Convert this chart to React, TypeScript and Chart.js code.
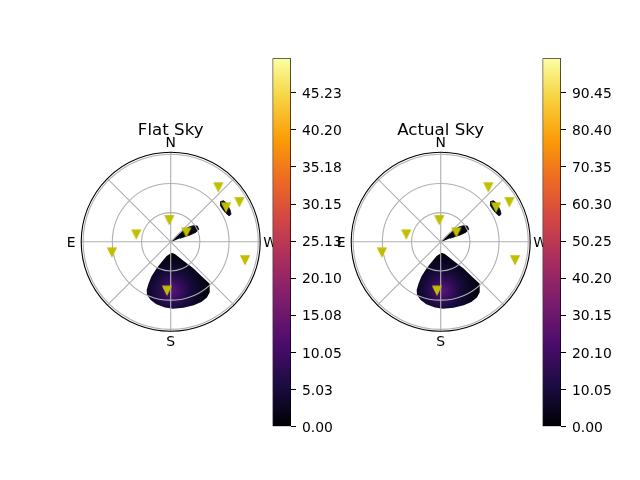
import React, { useEffect, useRef } from 'react';
import { Chart, registerables } from 'chart.js';

Chart.register(...registerables);

const FONT = "'DejaVu Sans', 'Liberation Sans', sans-serif";

// ---------------- data ----------------
const panelTitles = ['Flat Sky', 'Actual Sky'];

// yellow "v" markers: azimuth (deg, N=0, E=90) and zenith angle (deg)
const markerAzimuth = [318.9, 300.1, 302.0, 3.7, 301.3, 77.7, 100.1, 256.2, 175.6];
const markerZenith = [74.5, 81.6, 67.1, 22.5, 18.8, 36.2, 61.4, 78.7, 50.1];

// main (southern) intensity region outline
const mainBlobAzimuth = [185, 164, 156, 152, 151, 152, 153.5, 156, 161, 167, 175, 182, 191, 200, 207, 213, 218, 223, 222, 220.5, 214, 199];
const mainBlobZenith = [11.3, 15.2, 22.5, 30.8, 40.9, 48.5, 55.4, 59.8, 63.3, 65.9, 67.7, 68.9, 69.0, 69.4, 69.4, 68.4, 65.4, 58.8, 47.5, 35.8, 23.4, 13.3];
const mainPeakAzimuth = 182;
const mainPeakZenith = 50;

// small region near the zenith (towards NW)
const innerBlobAzimuth = [276, 314, 311.5, 309.5, 305.5, 300.7, 294, 290.6, 289.4, 290.6];
const innerBlobZenith = [1.0, 8.6, 17.3, 23.5, 28.6, 31.8, 31.6, 27.8, 21.1, 10.2];

// small region near the horizon (NW)
const outerBlobAzimuth = [309, 308, 304.5, 298, 294.5, 294, 297.3, 302, 306.7];
const outerBlobZenith = [65.4, 68.7, 69.9, 69.2, 68.2, 65.6, 64.0, 63.1, 63.3];

// polar axes
const radialGridValues = [30, 60, 90];
const radialMax = 92;
const angularGridValues = [0, 45, 90, 135, 180, 225, 270, 315];
const compassLabels = ['N', 'E', 'S', 'W'];
const compassAzimuths = [0, 90, 180, 270];

// colorbars
const flatTicks = [0, 5.025, 10.05, 15.075, 20.1, 25.125, 30.15, 35.175, 40.2, 45.225];
const flatTickLabels = ['0.00', '5.03', '10.05', '15.08', '20.10', '25.13', '30.15', '35.18', '40.20', '45.23'];
const flatMax = 49.9;
const actualTicks = [0, 10.05, 20.1, 30.15, 40.2, 50.25, 60.3, 70.35, 80.4, 90.45];
const actualTickLabels = ['0.00', '10.05', '20.10', '30.15', '40.20', '50.25', '60.30', '70.35', '80.40', '90.45'];
const actualMax = 99.8;

const infernoStops = ['#000004', '#1b0c41', '#4a0c6b', '#781c6d', '#a52c60', '#cf4446', '#ed6925', '#fb9b06', '#f7d13d', '#fcffa4'];

// ---------------- layout ----------------
const CW = 640;
const CH = 480;
const POLAR_R = 89.5;
const POLAR_CENTERS = [
  { x: 170.7, y: 241.8 },
  { x: 440.7, y: 241.8 },
];
const LABEL_R_FACTOR = 99.5 / 89.5;
const CBAR_BOXES = [
  { left: 272.5, right: 291, top: 58.2, bottom: 426.7 },
  { left: 542.5, right: 561, top: 58.2, bottom: 426.7 },
];
const CBAR_AXIS_W = 60;

const toXY = (az: number, zen: number) => {
  const t = (az * Math.PI) / 180;
  return { x: -zen * Math.sin(t), y: zen * Math.cos(t) };
};

function makeTriangle(): HTMLCanvasElement {
  const c = document.createElement('canvas');
  c.width = 14;
  c.height = 14;
  const g = c.getContext('2d')!;
  const h = 4.17;
  g.fillStyle = '#bfbf00';
  g.strokeStyle = '#bfbf00';
  g.lineWidth = 1.2;
  g.lineJoin = 'miter';
  g.beginPath();
  g.moveTo(7 - h, 7 - h);
  g.lineTo(7 + h, 7 - h);
  g.lineTo(7, 7 + h);
  g.closePath();
  g.fill();
  g.stroke();
  return c;
}

function makePolar(canvas: HTMLCanvasElement, index: number) {
  const c = POLAR_CENTERS[index];
  const title = panelTitles[index];
  const markers = markerAzimuth.map((a, i) => toXY(a, markerZenith[i]));
  const shape = (az: number[], zen: number[]) => az.map((a, i) => toXY(a, zen[i]));
  const tri = makeTriangle();

  const gridPlugin = {
    id: 'polarGrid' + index,
    beforeDatasetDraw(chart: any, args: any) {
      if (args.index !== 0) return;
      const { ctx } = chart;
      const xs = chart.scales.x;
      const ys = chart.scales.y;
      const cx = xs.getPixelForValue(0);
      const cy = ys.getPixelForValue(0);
      const rp = (v: number) => xs.getPixelForValue(v) - cx;
      ctx.save();
      ctx.strokeStyle = '#b0b0b0';
      ctx.lineWidth = 1.1;
      radialGridValues.forEach((r) => {
        ctx.beginPath();
        ctx.arc(cx, cy, rp(r), 0, Math.PI * 2);
        ctx.stroke();
      });
      ctx.beginPath();
      angularGridValues.forEach((az) => {
        const p = toXY(az, radialMax);
        ctx.moveTo(cx, cy);
        ctx.lineTo(xs.getPixelForValue(p.x), ys.getPixelForValue(p.y));
      });
      ctx.stroke();
      ctx.strokeStyle = '#000000';
      ctx.lineWidth = 1.1;
      ctx.beginPath();
      ctx.arc(cx, cy, rp(radialMax), 0, Math.PI * 2);
      ctx.stroke();
      ctx.restore();
    },
    afterDraw(chart: any) {
      const { ctx } = chart;
      const xs = chart.scales.x;
      const ys = chart.scales.y;
      ctx.save();
      ctx.fillStyle = '#000';
      ctx.textAlign = 'center';
      ctx.textBaseline = 'alphabetic';
      ctx.font = `13.9px ${FONT}`;
      compassLabels.forEach((lab, i) => {
        const p = toXY(compassAzimuths[i], radialMax * LABEL_R_FACTOR);
        ctx.fillText(lab, xs.getPixelForValue(p.x), ys.getPixelForValue(p.y) + 5.1);
      });
      ctx.font = `16.67px ${FONT}`;
      ctx.fillText(title, xs.getPixelForValue(0), chart.chartArea.top - 17.3);
      ctx.restore();
    },
  };

  const mainGradient = (context: any) => {
    const chart = context.chart;
    const xs = chart.scales.x;
    const ys = chart.scales.y;
    if (!chart.chartArea || !xs || !ys) return '#0b0626';
    const p = toXY(mainPeakAzimuth, mainPeakZenith);
    const px = xs.getPixelForValue(p.x);
    const py = ys.getPixelForValue(p.y);
    const rad = xs.getPixelForValue(34) - xs.getPixelForValue(0);
    const g = chart.ctx.createRadialGradient(px, py, 0, px, py, rad);
    g.addColorStop(0, '#5a1676');
    g.addColorStop(0.25, '#3a0e60');
    g.addColorStop(0.55, '#170b3c');
    g.addColorStop(1, '#040312');
    return g;
  };

  return new Chart(canvas, {
    type: 'scatter',
    data: {
      datasets: [
        {
          label: 'markers',
          data: markers,
          pointStyle: tri as any,
          pointRadius: 5,
          backgroundColor: '#bfbf00',
          borderColor: '#bfbf00',
          clip: false as any,
        },
        {
          type: 'line' as any,
          label: 'outer',
          data: shape(outerBlobAzimuth, outerBlobZenith),
          fill: 'shape',
          backgroundColor: '#040312',
          borderColor: '#040312',
          borderWidth: 0.8,
          pointRadius: 0,
          tension: 0,
        },
        {
          type: 'line' as any,
          label: 'inner',
          data: shape(innerBlobAzimuth, innerBlobZenith),
          fill: 'shape',
          backgroundColor: '#040312',
          borderColor: '#040312',
          borderWidth: 0.8,
          pointRadius: 0,
          tension: 0,
        },
        {
          type: 'line' as any,
          label: 'main',
          data: shape(mainBlobAzimuth, mainBlobZenith),
          fill: 'shape',
          backgroundColor: mainGradient,
          borderColor: 'rgba(0,0,0,0)',
          borderWidth: 1,
          pointRadius: 0,
          tension: 0,
        },
      ] as any,
    },
    options: {
      responsive: false,
      animation: false,
      events: [],
      layout: {
        padding: {
          left: c.x - POLAR_R,
          right: CW - (c.x + POLAR_R),
          top: c.y - POLAR_R,
          bottom: CH - (c.y + POLAR_R),
        },
      },
      plugins: { legend: { display: false }, tooltip: { enabled: false } },
      scales: {
        x: { type: 'linear', display: false, min: -radialMax, max: radialMax },
        y: { type: 'linear', display: false, min: -radialMax, max: radialMax },
      },
    } as any,
    plugins: [gridPlugin],
  });
}

function makeColorbar(canvas: HTMLCanvasElement, index: number) {
  const box = CBAR_BOXES[index];
  const ticks = index === 0 ? flatTicks : actualTicks;
  const labels = index === 0 ? flatTickLabels : actualTickLabels;
  const max = index === 0 ? flatMax : actualMax;

  const grad = (context: any) => {
    const chart = context.chart;
    const area = chart.chartArea;
    if (!area) return '#781c6d';
    const g = chart.ctx.createLinearGradient(0, area.bottom, 0, area.top);
    infernoStops.forEach((col, i) => g.addColorStop(i / (infernoStops.length - 1), col));
    return g;
  };

  return new Chart(canvas, {
    type: 'bar',
    data: {
      labels: [''],
      datasets: [
        {
          data: [max],
          backgroundColor: grad,
          borderColor: '#000000',
          borderWidth: 1,
          borderSkipped: false,
          barPercentage: 1,
          categoryPercentage: 1,
        },
      ] as any,
    },
    options: {
      responsive: false,
      animation: false,
      events: [],
      layout: {
        padding: {
          left: box.left,
          right: CW - box.right - CBAR_AXIS_W,
          top: box.top,
          bottom: CH - box.bottom,
        },
      },
      plugins: { legend: { display: false }, tooltip: { enabled: false } },
      scales: {
        x: { display: false },
        y: {
          position: 'right',
          min: 0,
          max,
          afterBuildTicks: (s: any) => {
            s.ticks = ticks.map((v) => ({ value: v }));
          },
          afterFit: (s: any) => {
            s.width = CBAR_AXIS_W;
          },
          grid: { drawOnChartArea: false, drawTicks: true, tickLength: 5, color: '#000000', lineWidth: 1 },
          border: { display: false },
          ticks: {
            color: '#000000',
            padding: 6,
            labelOffset: 1.5,
            font: { family: FONT, size: 13.9 },
            callback: (_v: any, i: number) => labels[i],
          },
        },
      },
    } as any,
  });
}

export default function App() {
  const r0 = useRef<HTMLCanvasElement>(null);
  const r1 = useRef<HTMLCanvasElement>(null);
  const r2 = useRef<HTMLCanvasElement>(null);
  const r3 = useRef<HTMLCanvasElement>(null);

  useEffect(() => {
    const charts = [
      makePolar(r0.current!, 0),
      makeColorbar(r1.current!, 0),
      makePolar(r2.current!, 1),
      makeColorbar(r3.current!, 1),
    ];
    return () => charts.forEach((ch) => ch.destroy());
  }, []);

  const st: React.CSSProperties = { position: 'absolute', left: 0, top: 0 };
  return (
    <div style={{ position: 'absolute', left: 0, top: 0, width: CW, height: CH, background: '#fff' }}>
      <canvas ref={r0} width={CW} height={CH} style={st} />
      <canvas ref={r1} width={CW} height={CH} style={st} />
      <canvas ref={r2} width={CW} height={CH} style={st} />
      <canvas ref={r3} width={CW} height={CH} style={st} />
    </div>
  );
}
